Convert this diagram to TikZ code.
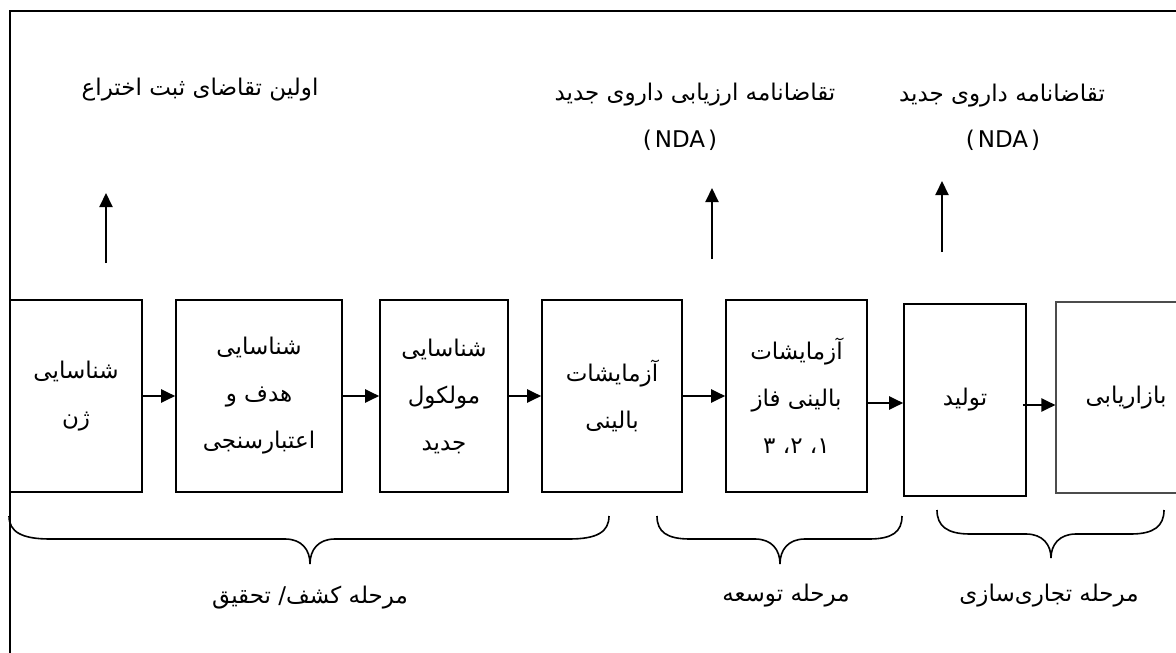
\documentclass[tikz,border=0pt]{standalone}
\usepackage{fontspec}
\setmainfont{DejaVu Sans}
\newfontfamily\fa[Script=Arabic]{DejaVu Sans}
\TeXXeTstate=1
\usetikzlibrary{arrows.meta}
\newcommand\fatext[1]{\beginR #1\endR}
\begin{document}
\begin{tikzpicture}[x=1pt,y=-1pt,
  box/.style={draw, line width=1.6pt, inner sep=0pt, minimum height=192pt, align=center,
              font=\fa\fontsize{23}{47}\selectfont},
  lbl/.style={inner sep=0pt, font=\fa\fontsize{23}{28}\selectfont},
  latin/.style={inner sep=0pt, font=\fontsize{23}{28}\selectfont},
  arr/.style={line width=2pt, -{Triangle[length=14pt,width=13pt]}},
  brc/.style={line width=1.6pt}]
\useasboundingbox (0,0) rectangle (1176,653);
\clip (0,0) rectangle (1176,653);
% frame
\draw[line width=1.6pt] (10,653) -- (10,11) -- (1176,11);
% boxes
\node[box, minimum width=132pt] (b1) at (76,396) {\fatext{شناسایی}\\\fatext{ژن}};
\node[box, minimum width=166pt] (b2) at (259,396) {\fatext{شناسایی}\\\fatext{هدف و}\\\fatext{اعتبارسنجی}};
\node[box, minimum width=128pt] (b3) at (444,396) {\fatext{شناسایی}\\\fatext{مولکول}\\\fatext{جدید}};
\node[box, minimum width=140pt] (b4) at (612,396) {\fatext{آزمایشات}\\\fatext{بالینی}};
\node[box, minimum width=141pt] (b5) at (796.5,396) {\fatext{آزمایشات}\\\fatext{بالینی فاز}\\\fatext{۱، ۲، ۳}};
\node[box, minimum width=122pt] (b6) at (965,400) {\fatext{تولید}};
\node[box, minimum width=140pt, minimum height=191pt, line width=1.1pt, draw=black!70] (b7) at (1126,397.5) {\fatext{بازاریابی}};
% arrows between boxes
\draw[arr] (b1.east) -- (b2.west);
\draw[arr] (b2.east) -- (b3.west);
\draw[arr] (b3.east) -- (b4.west);
\draw[arr] (b4.east) -- (b5.west);
\draw[arr] ([shift={(0,7)}]b5.east) -- ([shift={(0,3)}]b6.west);
\draw[arr] ([shift={(-4,5)}]b6.east) -- ([shift={(0,7.5)}]b7.west);
% top labels
\node[lbl] (t1) at (200,90) {\fatext{اولین تقاضای ثبت اختراع}};
\node[lbl] (t2) at (695,95) {\fatext{تقاضانامه ارزیابی داروی جدید}};
\node[latin] (t2n) at (680,140) {(\kern3pt NDA\kern3pt)};
\node[lbl] (t3) at (1002,96) {\fatext{تقاضانامه داروی جدید}};
\node[latin] (t3n) at (1003,140) {(\kern3pt NDA\kern3pt)};
% up arrows
\coordinate (u1s) at (106,263); \coordinate (u1e) at (106,193);
\coordinate (u2s) at (712,259); \coordinate (u2e) at (712,188);
\coordinate (u3s) at (942,252); \coordinate (u3e) at (942,181);
\draw[arr] (u1s) -- (u1e);
\draw[arr] (u2s) -- (u2e);
\draw[arr] (u3s) -- (u3e);
% braces
\draw[brc] (9,516) .. controls (9,532) and (22,539) .. (50,539) -- (285,539)
  .. controls (302,539) and (310,550) .. (310,564)
  .. controls (310,550) and (318,539) .. (335,539) -- (569,539)
  .. controls (597,539) and (609,532) .. (609,516);
\draw[brc] (657,516) .. controls (657,532) and (667,539) .. (690,539) -- (755,539)
  .. controls (772,539) and (780,550) .. (780,564)
  .. controls (780,550) and (788,539) .. (805,539) -- (869,539)
  .. controls (892,539) and (902,532) .. (902,516);
\draw[brc] (937,510) .. controls (937,526) and (947,534) .. (970,534) -- (1026,534)
  .. controls (1043,534) and (1051,545) .. (1051,558)
  .. controls (1051,545) and (1059,534) .. (1076,534) -- (1131,534)
  .. controls (1154,534) and (1164,526) .. (1164,510);
% bottom labels
\node[lbl] (p1) at (310,598) {\fatext{مرحله کشف/ تحقیق}};
\node[lbl] (p2) at (786,596) {\fatext{مرحله توسعه}};
\node[lbl] (p3) at (1049,596) {\fatext{مرحله تجاری‌سازی}};
\end{tikzpicture}
\end{document}
